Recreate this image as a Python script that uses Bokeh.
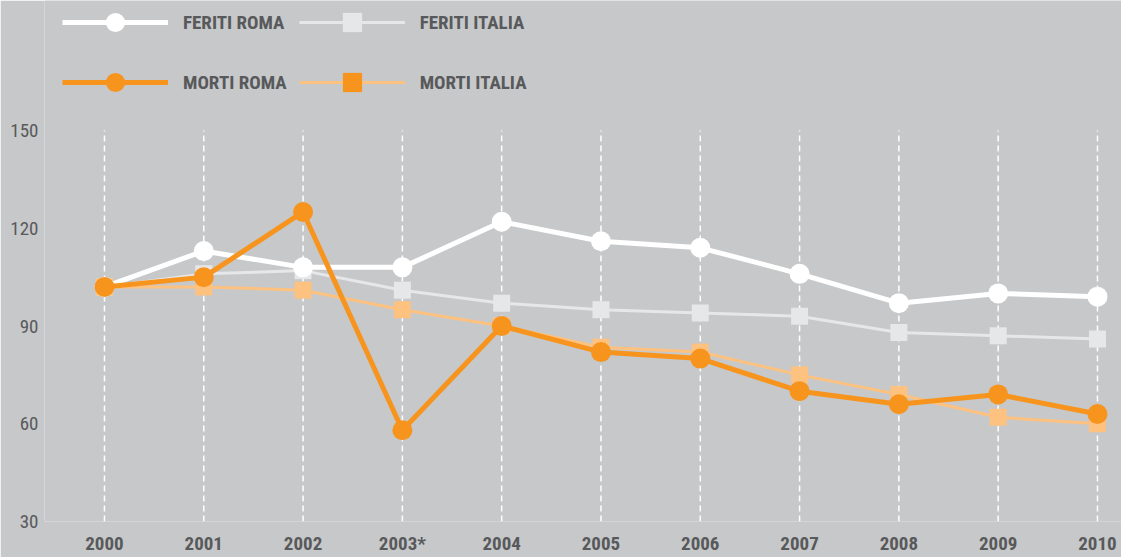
from bokeh.plotting import figure
from bokeh.models import Range1d, Legend, LegendItem, FixedTicker
from bokeh.embed import file_html
from bokeh.resources import INLINE

# ---- data ----
years = [2000, 2001, 2002, 2003, 2004, 2005, 2006, 2007, 2008, 2009, 2010]
year_labels = ["2000", "2001", "2002", "2003*", "2004", "2005", "2006", "2007", "2008", "2009", "2010"]
feriti_roma = [102, 113, 108, 108, 122, 116, 114, 106, 97, 100, 99]
feriti_italia = [102, 106, 107, 101, 97, 95, 94, 93, 88, 87, 86]
morti_roma = [102, 105, 125, 58, 90, 82, 80, 70, 66, 69, 63]
morti_italia = [102, 102, 101, 95, 90, 83.5, 82, 75, 69, 62, 60]
y_ticks = [30, 60, 90, 120, 150]
series_names = ["FERITI ROMA", "FERITI ITALIA", "MORTI ROMA", "MORTI ITALIA"]

# ---- style ----
BG = "#c7c8ca"
TEXT = "#58595b"
ORANGE = "#f7941d"
LIGHT_ORANGE = "#fdc180"
LIGHT_GRAY = "#e6e7e8"
WHITE = "#ffffff"
FONT = "'Roboto Condensed', 'DejaVu Sans Condensed', Roboto, sans-serif"

p = figure(width=1121, height=557,
           x_range=Range1d(1999.396, 2010.242), y_range=Range1d(30, 189.9),
           output_backend="svg", toolbar_location=None,
           min_border_left=44, min_border_right=0, min_border_top=0, min_border_bottom=36,
           background_fill_color=BG, border_fill_color=BG, outline_line_color=None)

p.xgrid.grid_line_color = None
p.ygrid.grid_line_color = None

# dashed vertical guides for each year, spanning the tick range
p.segment(x0=years, y0=[y_ticks[0]] * len(years), x1=years, y1=[y_ticks[-1]] * len(years),
          line_color=WHITE, line_dash="6 4", line_width=1.5)

p.xaxis.ticker = FixedTicker(ticks=years)
p.xaxis.major_label_overrides = {y: l for y, l in zip(years, year_labels)}
p.yaxis.ticker = FixedTicker(ticks=y_ticks)
for ax in (p.xaxis[0], p.yaxis[0]):
    ax.axis_line_color = None
    ax.major_tick_line_color = None
    ax.minor_tick_line_color = None
    ax.major_tick_out = 0
    ax.major_tick_in = 0
    ax.major_label_text_color = TEXT
    ax.major_label_text_font = FONT
    ax.major_label_text_font_size = "19px"
p.xaxis.major_label_text_font_style = "bold"
p.xaxis.major_label_standoff = 10
p.yaxis.major_label_standoff = 6

# lines and markers
l_fi = p.line(years, feriti_italia, line_color=LIGHT_GRAY, line_width=3)
s_fi = p.scatter(years, feriti_italia, marker="square", size=17, fill_color=LIGHT_GRAY, line_color=None)
l_mi = p.line(years, morti_italia, line_color=LIGHT_ORANGE, line_width=3)
s_mi = p.scatter(years, morti_italia, marker="square", size=17, fill_color=LIGHT_ORANGE, line_color=None)
l_fr = p.line(years, feriti_roma, line_color=WHITE, line_width=5)
s_fr = p.scatter(years, feriti_roma, marker="circle", size=20, fill_color=WHITE, line_color=None)
l_mr = p.line(years, morti_roma, line_color=ORANGE, line_width=5)
s_mr = p.scatter(years, morti_roma, marker="circle", size=20, fill_color=ORANGE, line_color=None)
# legend-only marker (solid orange square in legend), hidden in the plot
s_mi_leg = p.scatter(years, morti_italia, marker="square", size=17, fill_color=ORANGE,
                     line_color=None, visible=False)

legend = Legend(items=[
    LegendItem(label=series_names[0], renderers=[l_fr, s_fr]),
    LegendItem(label=series_names[1], renderers=[l_fi, s_fi]),
    LegendItem(label=series_names[2], renderers=[l_mr, s_mr]),
    LegendItem(label=series_names[3], renderers=[l_mi, s_mi_leg]),
],
    orientation="horizontal", ncols=2,
    location=(18, 415),
    glyph_width=106, glyph_height=48, label_height=48, label_width=92,
    label_standoff=15, spacing=12, padding=0, margin=0,
    border_line_color=None, background_fill_alpha=0,
    inactive_fill_alpha=0,
    label_text_font=FONT, label_text_font_style="bold",
    label_text_font_size="19px", label_text_color=TEXT)
p.add_layout(legend)

open("out.html", "w").write(file_html(p, INLINE))
